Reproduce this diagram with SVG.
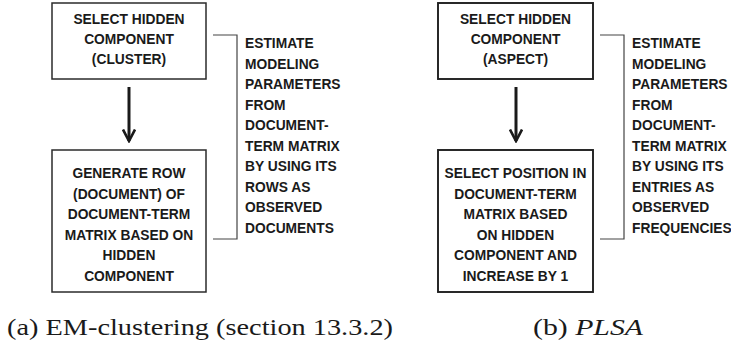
<svg xmlns="http://www.w3.org/2000/svg" width="731" height="352" viewBox="0 0 731 352">
<style>
  .box { fill: #ffffff; stroke: #2b2b2b; stroke-width: 1.5; }
  .boxb { fill: #ffffff; stroke: #1f1f1f; stroke-width: 1.9; }
  .lbl { font-family: "Liberation Sans", Arial, sans-serif; font-weight: bold; font-size: 13.8px; fill: #1a1a1a; }
  .mid { text-anchor: middle; }
  .brk { fill: none; stroke: #444444; stroke-width: 1.2; }
  .arr { fill: none; stroke: #1a1a1a; stroke-width: 3; marker-end: url(#head); }
  .cap { font-family: "Liberation Serif", "Times New Roman", serif; font-size: 23px; fill: #1a1a1a; }
</style>
<defs>
  <marker id="head" viewBox="0 0 14 14" refX="12.5" refY="7" markerWidth="14" markerHeight="14" markerUnits="userSpaceOnUse" orient="auto">
    <path d="M1,1 L12.5,7 L1,13" fill="none" stroke="#1a1a1a" stroke-width="2.6"/>
  </marker>
</defs>
<rect width="731" height="352" fill="#ffffff"/>

<g id="a-select">
  <rect class="box" x="52" y="3" width="154" height="76"/>
  <text class="lbl mid" x="129" y="24">SELECT HIDDEN</text>
  <text class="lbl mid" x="129" y="44">COMPONENT</text>
  <text class="lbl mid" x="129" y="64">(CLUSTER)</text>
</g>
<g id="a-generate">
  <rect class="box" x="52" y="150" width="154" height="142"/>
  <text class="lbl mid" x="129" y="178">GENERATE ROW</text>
  <text class="lbl mid" x="129" y="198.5">(DOCUMENT) OF</text>
  <text class="lbl mid" x="129" y="219">DOCUMENT-TERM</text>
  <text class="lbl mid" x="129" y="239.5">MATRIX BASED ON</text>
  <text class="lbl mid" x="129" y="260">HIDDEN</text>
  <text class="lbl mid" x="129" y="280.5">COMPONENT</text>
</g>
<g id="a-estimate">
  <text class="lbl" x="245" y="48">ESTIMATE</text>
  <text class="lbl" x="245" y="68.5">MODELING</text>
  <text class="lbl" x="245" y="89">PARAMETERS</text>
  <text class="lbl" x="245" y="109.5">FROM</text>
  <text class="lbl" x="245" y="130">DOCUMENT-</text>
  <text class="lbl" x="245" y="150.5">TERM MATRIX</text>
  <text class="lbl" x="245" y="171">BY USING ITS</text>
  <text class="lbl" x="245" y="191.5">ROWS AS</text>
  <text class="lbl" x="245" y="212">OBSERVED</text>
  <text class="lbl" x="245" y="232.5">DOCUMENTS</text>
</g>

<g id="b-select">
  <rect class="boxb" x="438" y="3" width="155" height="76"/>
  <text class="lbl mid" x="515.5" y="24">SELECT HIDDEN</text>
  <text class="lbl mid" x="515.5" y="44">COMPONENT</text>
  <text class="lbl mid" x="515.5" y="64">(ASPECT)</text>
</g>
<g id="b-position">
  <rect class="boxb" x="438" y="150" width="155" height="142"/>
  <text class="lbl mid" x="515.5" y="178">SELECT POSITION IN</text>
  <text class="lbl mid" x="515.5" y="198.5">DOCUMENT-TERM</text>
  <text class="lbl mid" x="515.5" y="219">MATRIX BASED</text>
  <text class="lbl mid" x="515.5" y="239.5">ON HIDDEN</text>
  <text class="lbl mid" x="515.5" y="260">COMPONENT AND</text>
  <text class="lbl mid" x="515.5" y="280.5">INCREASE BY 1</text>
</g>
<g id="b-estimate">
  <text class="lbl" x="632" y="48">ESTIMATE</text>
  <text class="lbl" x="632" y="68.5">MODELING</text>
  <text class="lbl" x="632" y="89">PARAMETERS</text>
  <text class="lbl" x="632" y="109.5">FROM</text>
  <text class="lbl" x="632" y="130">DOCUMENT-</text>
  <text class="lbl" x="632" y="150.5">TERM MATRIX</text>
  <text class="lbl" x="632" y="171">BY USING ITS</text>
  <text class="lbl" x="632" y="191.5">ENTRIES AS</text>
  <text class="lbl" x="632" y="212">OBSERVED</text>
  <text class="lbl" x="632" y="232.5">FREQUENCIES</text>
</g>

<g id="connectors">
  <path class="arr" d="M129,87 L129,141"/>
  <path class="arr" d="M516,87 L516,141"/>
  <path class="brk" d="M213,35 L237,35 L237,239 L213,239"/>
  <path class="brk" d="M600,35 L624,35 L624,239 L600,239"/>
</g>

<g id="captions">
  <text class="cap" x="7" y="335" textLength="386" lengthAdjust="spacingAndGlyphs">(a) EM-clustering (section 13.3.2)</text>
  <text class="cap" x="533" y="335" textLength="110" lengthAdjust="spacingAndGlyphs">(b) <tspan font-style="italic">PLSA</tspan></text>
</g>
</svg>
